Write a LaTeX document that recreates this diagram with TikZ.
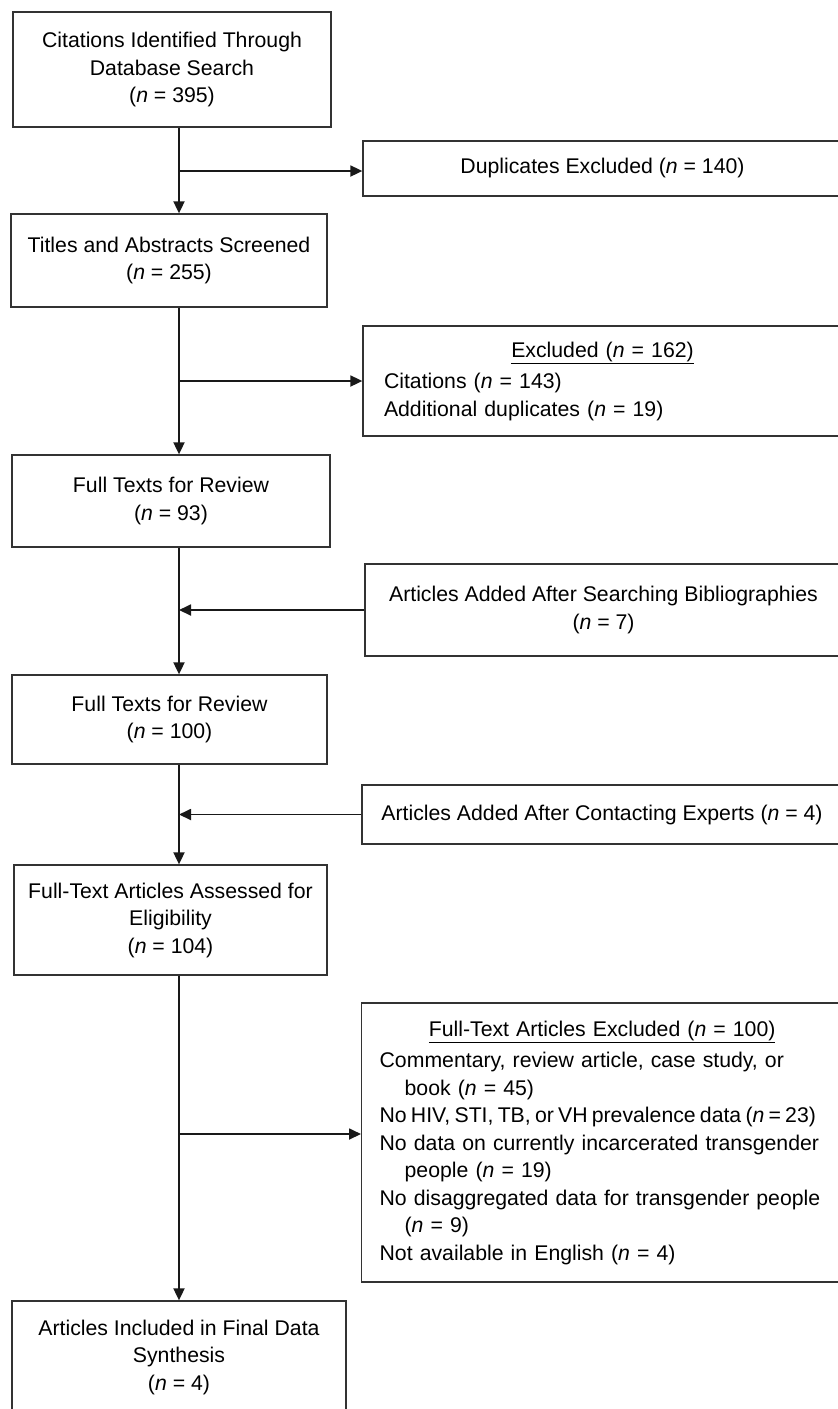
\documentclass[tikz,border=0pt]{standalone}
\usepackage{fontspec}
\setmainfont{Liberation Sans}
\usetikzlibrary{arrows.meta}

\begin{document}
\begin{tikzpicture}[x=1pt, y=1pt,
	mainBox/.style={rectangle, draw=black!80, line width=1.3pt, align=center, inner sep=0pt, font=\fontsize{21.25}{27.5}\selectfont},
	listBox/.style={mainBox, align=left, inner ysep=0pt},
	flowArrow/.style={-{Triangle[length=12pt, width=11pt]}, line width=1.8pt, draw=black!90}]

		\useasboundingbox (0,0) rectangle (838,-1409);
		\clip (0,0) rectangle (838,-1409);

		% main column
		\node[mainBox, minimum width=318, minimum height=115](citeBox) at (172,-69.5){Citations Identified Through\\Database Search\\(\textit{n} = 395)};
		\node[mainBox, minimum width=316, minimum height=93](titlesBox) at (169,-260.5){Titles and Abstracts Screened\\(\textit{n} = 255)};
		\node[mainBox, minimum width=318, minimum height=92](full93Box) at (171,-501){Full Texts for Review\\(\textit{n} = 93)};
		\node[mainBox, minimum width=315, minimum height=89](full100Box) at (169.5,-719.5){Full Texts for Review\\(\textit{n} = 100)};
		\node[mainBox, minimum width=313, minimum height=110](assessBox) at (170.5,-920){Full-Text Articles Assessed for\\Eligibility\\(\textit{n} = 104)};
		\node[mainBox, minimum width=334, minimum height=112](finalBox) at (179,-1357){Articles Included in Final Data\\Synthesis\\(\textit{n} = 4)};

		% side boxes
		\node[mainBox, minimum width=479, minimum height=55](dupBox) at (602.5,-168.5){Duplicates Excluded (\textit{n} = 140)};
		\node[listBox, text width=437pt, inner xsep=21pt, minimum height=110](excl162Box) at (602.5,-381){\makebox[437pt]{\underline{Excluded (\textit{n} = 162)}}\\[4pt]
			Citations (\textit{n} = 143)\\
			Additional duplicates (\textit{n} = 19)};
		\node[mainBox, minimum width=477, minimum height=92](biblioBox) at (603.5,-610){Articles Added After Searching Bibliographies\\(\textit{n} = 7)};
		\node[mainBox, minimum width=480, minimum height=59](expertsBox) at (602,-814.5){Articles Added After Contacting Experts (\textit{n} = 4)};
		\node[listBox, text width=500pt, inner xsep=18pt, minimum height=279, anchor=west](excl100Box) at (361,-1142.5){\makebox[445pt]{\underline{Full-Text Articles Excluded (\textit{n} = 100)}}\\[4pt]
			Commentary, review article, case study, or\\
			\hspace*{25pt}book (\textit{n} = 45)\\
			{\spaceskip=4.2pt No HIV, STI, TB, or VH prevalence data (\textit{n} = 23)}\\
			No data on currently incarcerated transgender\\
			\hspace*{25pt}people (\textit{n} = 19)\\
			No disaggregated data for transgender people\\
			\hspace*{25pt}(\textit{n} = 9)\\
			Not available in English (\textit{n} = 4)};

		\coordinate (spine) at (179,0);

		% draw main edges
		\draw[flowArrow] (citeBox.south -| spine) -- (titlesBox.north -| spine);
		\draw[flowArrow] (titlesBox.south -| spine) -- (full93Box.north -| spine);
		\draw[flowArrow] (full93Box.south -| spine) -- (full100Box.north -| spine);
		\draw[flowArrow] (full100Box.south -| spine) -- (assessBox.north -| spine);
		\draw[flowArrow] (assessBox.south -| spine) -- (finalBox.north -| spine);

		% draw exclusion edges
		\draw[flowArrow] ([yshift=-2.5pt]dupBox.west -| spine) -- ([yshift=-2.5pt]dupBox.west);
		\draw[flowArrow] (excl162Box.west -| spine) -- (excl162Box.west);
		\draw[flowArrow] ([yshift=8.5pt]excl100Box.west -| spine) -- ([yshift=8.5pt]excl100Box.west);

		% draw addition edges
		\draw[flowArrow] (biblioBox.west) -- (biblioBox.west -| spine);
		\draw[flowArrow] (expertsBox.west) -- (expertsBox.west -| spine);

	\end{tikzpicture}
\end{document}
